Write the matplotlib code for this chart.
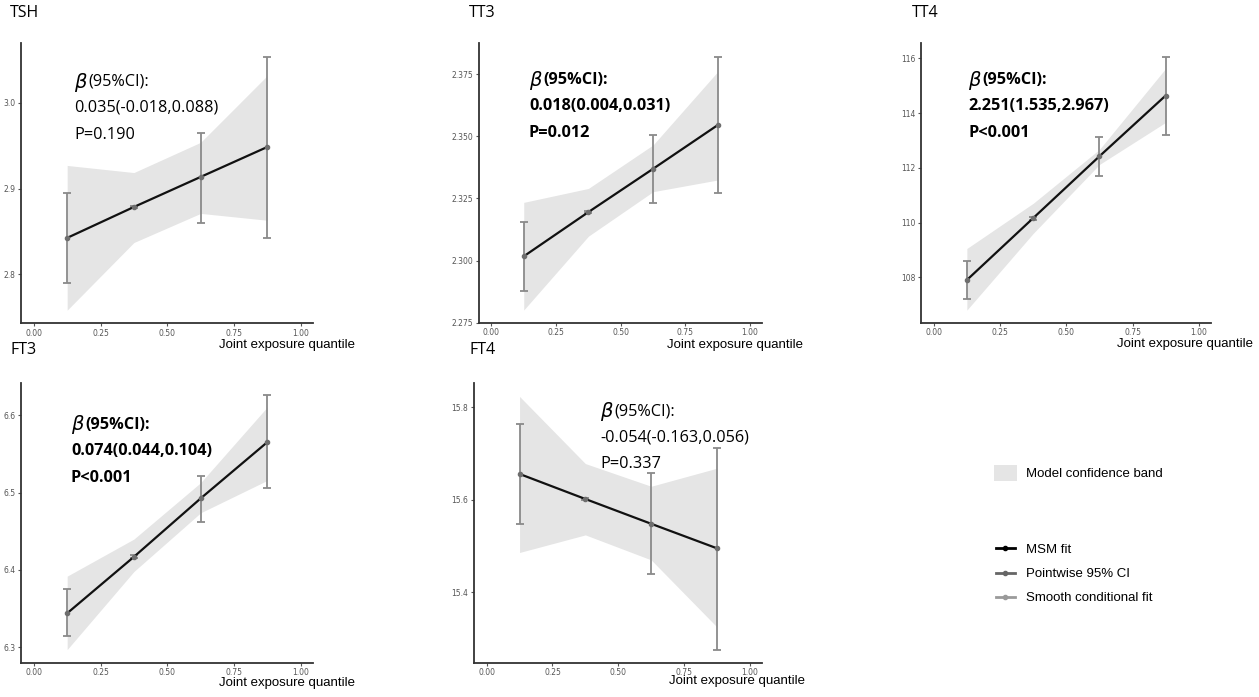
import numpy as np
import matplotlib.pyplot as plt
from matplotlib.lines import Line2D
from matplotlib.patches import Patch

W, H = 1259, 697

# joint exposure quantile midpoints
q = [0.125, 0.375, 0.625, 0.875]

# MSM fit, pointwise CI, smooth band
tsh_fit = [2.8424, 2.8785, 2.9136, 2.9486]
tsh_lo = [2.7895, 2.877, 2.860, 2.842]
tsh_hi = [2.895, 2.880, 2.9654, 3.0537]
tsh_band_lo = [2.758, 2.837, 2.871, 2.863]
tsh_band_hi = [2.927, 2.9187, 2.954, 3.032]

tt3_fit = [2.3017, 2.3195, 2.3369, 2.3545]
tt3_lo = [2.2879, 2.3190, 2.3231, 2.327]
tt3_hi = [2.3157, 2.3200, 2.3506, 2.382]
tt3_band_lo = [2.2801, 2.3098, 2.3277, 2.3324]
tt3_band_hi = [2.3234, 2.329, 2.3465, 2.376]

tt4_fit = [107.9, 110.16, 112.42, 114.64]
tt4_lo = [107.2, 110.10, 111.7, 113.2]
tt4_hi = [108.61, 110.22, 113.14, 116.06]
tt4_band_lo = [106.8, 109.6, 112.12, 113.66]
tt4_band_hi = [109.05, 110.7, 112.67, 115.63]

ft3_fit = [6.344, 6.417, 6.4926, 6.5655]
ft3_lo = [6.3146, 6.415, 6.462, 6.5065]
ft3_hi = [6.375, 6.419, 6.522, 6.627]
ft3_band_lo = [6.297, 6.398, 6.474, 6.516]
ft3_band_hi = [6.392, 6.44, 6.513, 6.611]

ft4_fit = [15.6556, 15.6015, 15.548, 15.495]
ft4_lo = [15.547, 15.599, 15.439, 15.275]
ft4_hi = [15.764, 15.604, 15.657, 15.712]
ft4_band_lo = [15.486, 15.524, 15.47, 15.325]
ft4_band_hi = [15.823, 15.678, 15.629, 15.668]

names = ["TSH", "TT3", "TT4", "FT3", "FT4"]
betas = ["0.035(-0.018,0.088)", "0.018(0.004,0.031)", "2.251(1.535,2.967)",
         "0.074(0.044,0.104)", "-0.054(-0.163,0.056)"]
pvals = ["P=0.190", "P=0.012", "P<0.001", "P<0.001", "P=0.337"]
bold = [False, True, True, True, False]
yticks = [[2.8, 2.9, 3.0], [2.275, 2.300, 2.325, 2.350, 2.375],
          [108, 110, 112, 114, 116], [6.3, 6.4, 6.5, 6.6], [15.4, 15.6, 15.8]]
yfmt = ["{:.1f}", "{:.3f}", "{:.0f}", "{:.1f}", "{:.1f}"]
ylims = [(2.743, 3.070), (2.275, 2.3875), (106.34, 116.56), (6.28, 6.642), (15.248, 15.852)]

series = [
    (tsh_fit, tsh_lo, tsh_hi, tsh_band_lo, tsh_band_hi),
    (tt3_fit, tt3_lo, tt3_hi, tt3_band_lo, tt3_band_hi),
    (tt4_fit, tt4_lo, tt4_hi, tt4_band_lo, tt4_band_hi),
    (ft3_fit, ft3_lo, ft3_hi, ft3_band_lo, ft3_band_hi),
    (ft4_fit, ft4_lo, ft4_hi, ft4_band_lo, ft4_band_hi),
]

# layout in pixels: axes box (left, right, top, bottom), title pos, text pos, xlabel right end / y
boxes = [(21, 313, 43, 323), (479, 762, 43, 322.7), (921, 1211, 43, 322.7),
         (21, 313, 383, 662.7), (474, 762, 383, 662.7)]
title_pos = [(10, 13), (469, 13), (912, 13), (10, 350), (469, 350)]
text_pos = [(74, 82), (529, 80), (968, 80), (71, 425), (600, 411)]
xlab_pos = [(355, 345), (803, 345), (1253, 344), (355, 683), (805, 681)]

band_col = "#e5e5e5"
err_col = "#8a8a8a"
pt_col = "#6e6e6e"
fs_txt = 11.7


def fx(px):
    return px / W


def fy(py):
    return 1 - py / H


fig = plt.figure(figsize=(W / 100, H / 100), dpi=100)

for i, name in enumerate(names):
    l, r, t, b = boxes[i]
    ax = fig.add_axes([fx(l), fy(b), (r - l) / W, (b - t) / H])
    fit, lo, hi, blo, bhi = series[i]
    ax.fill_between(q, blo, bhi, color=band_col, lw=0, zorder=1)
    ax.errorbar(q, fit, yerr=[np.subtract(fit, lo), np.subtract(hi, fit)], fmt="none",
                ecolor=err_col, elinewidth=1.3, capsize=3, capthick=1.3, zorder=2)
    ax.plot(q, fit, color="#111111", lw=1.6, zorder=3)
    ax.plot(q, fit, "o", color=pt_col, ms=3, zorder=4)
    ax.set_xlim(-0.048, 1.046)
    ax.set_ylim(*ylims[i])
    ax.set_xticks([0, 0.25, 0.5, 0.75, 1.0])
    ax.set_xticklabels(["0.00", "0.25", "0.50", "0.75", "1.00"])
    ax.set_yticks(yticks[i])
    ax.set_yticklabels([yfmt[i].format(v) for v in yticks[i]])
    for s in ["top", "right"]:
        ax.spines[s].set_visible(False)
    for s in ["left", "bottom"]:
        ax.spines[s].set_linewidth(1.3)
        ax.spines[s].set_color("#333333")
    ax.tick_params(labelsize=5.5, labelcolor="#555555", length=2, width=0.8,
                   color="#555555", pad=2)

    tx, ty = title_pos[i]
    fig.text(fx(tx), fy(ty), name, fontsize=11.5, family="Open Sans",
             ha="left", va="center")
    xr, xy = xlab_pos[i]
    fig.text(fx(xr), fy(xy), "Joint exposure quantile", fontsize=9.5,
             family="Liberation Sans", ha="right", va="center")

    px, py = text_pos[i]
    wt = "bold" if bold[i] else "normal"
    fig.text(fx(px), fy(py), r"$\beta$", fontsize=14, ha="left", va="center")
    fig.text(fx(px + 14), fy(py), "(95%CI):", fontsize=fs_txt, family="Open Sans",
             weight=wt, ha="left", va="center")
    fig.text(fx(px), fy(py + 26), betas[i], fontsize=fs_txt, family="Open Sans",
             weight=wt, ha="left", va="center")
    fig.text(fx(px), fy(py + 53), pvals[i], fontsize=fs_txt, family="Open Sans",
             weight=wt, ha="left", va="center")

band_handle = [Patch(facecolor=band_col, edgecolor="none")]
fig.legend(band_handle, ["Model confidence band"], loc="center left",
           bbox_to_anchor=(fx(982), fy(473)), frameon=False,
           prop={"family": "Liberation Sans", "size": 9.5},
           handlelength=1.75, handleheight=1.6, handletextpad=0.7)

line_handles = [
    Line2D([], [], color="#000000", lw=2, marker="o", ms=3),
    Line2D([], [], color="#666666", lw=2, marker="o", ms=3),
    Line2D([], [], color="#9a9a9a", lw=2, marker="o", ms=3),
]
fig.legend(line_handles, ["MSM fit", "Pointwise 95% CI", "Smooth conditional fit"],
           loc="center left", bbox_to_anchor=(fx(984), fy(574)), frameon=False,
           prop={"family": "Liberation Sans", "size": 9.5},
           handlelength=1.45, handletextpad=0.8, labelspacing=0.9)

fig.savefig("out.png", dpi=100)
